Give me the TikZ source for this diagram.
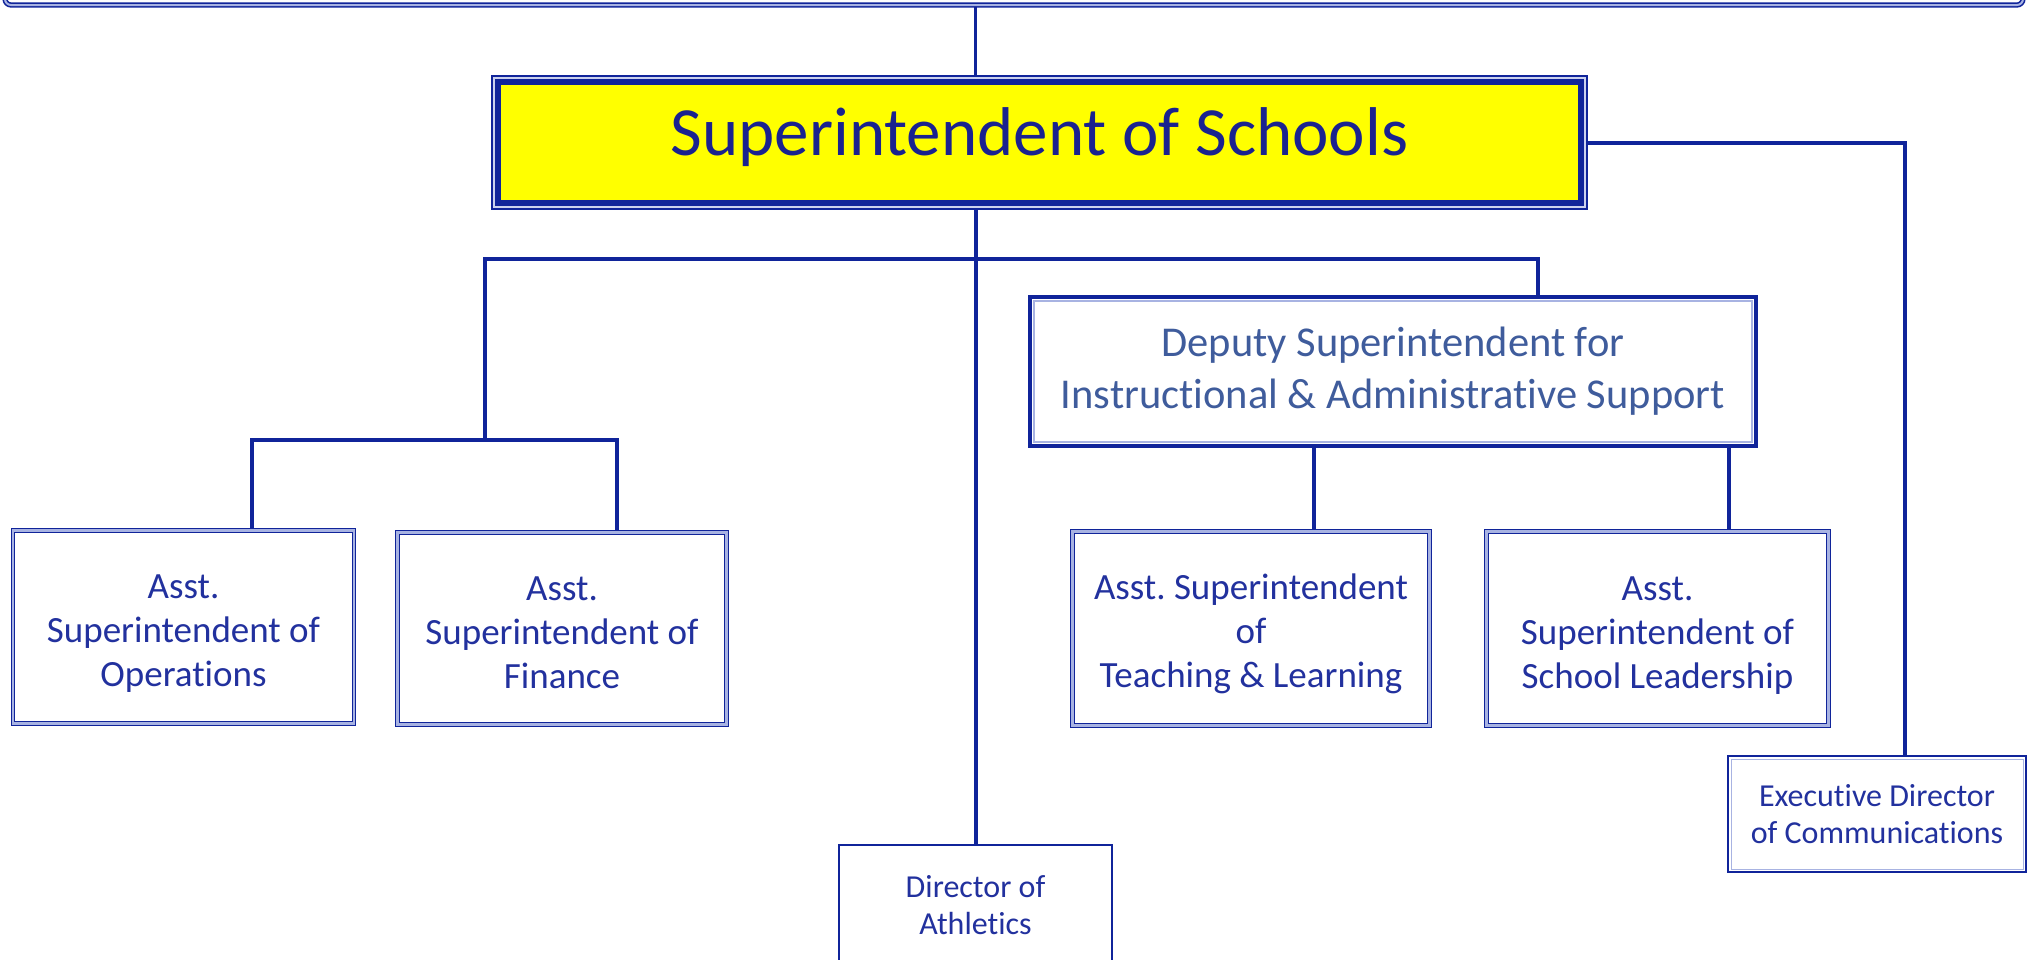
\documentclass[tikz,border=0pt]{standalone}
\usepackage{fontspec}
\setmainfont{Carlito}[Ligatures={NoCommon}]
\usetikzlibrary{calc,backgrounds}
\definecolor{lineblue}{HTML}{10249A}
\definecolor{txtblue}{HTML}{22319E}
\definecolor{suptxt}{HTML}{1A228F}
\definecolor{deptxt}{HTML}{3F5C9C}
\definecolor{band}{HTML}{A8B3E2}
\definecolor{supyellow}{HTML}{FFFF00}
\frenchspacing
\newcommand{\topstrut}{\rule{0pt}{37pt}}
\begin{document}
\begin{tikzpicture}[x=1pt,y=-1pt,
  conn/.style={draw=lineblue,line width=4pt},
  asstbox/.style={draw=lineblue,line width=1.2pt,double=band,double distance=2.5pt,fill=white,
    inner sep=0pt,outer sep=0pt,align=center,text=txtblue,font=\fontsize{37}{44}\selectfont},
  smallbox/.style={draw=lineblue,line width=2pt,fill=white,inner sep=0pt,outer sep=0pt,
    align=center,text=txtblue},
]
\useasboundingbox (0,0) rectangle (2028,959);
\clip (0,0) rectangle (2028,959);

% top (cut-off) box
\node[draw=lineblue,line width=1.6pt,double=band,double distance=2pt,rounded corners=6pt,
  fill=white,minimum width=2018pt,minimum height=50pt,inner sep=0pt,outer sep=0pt] (top) at (1014,-20) {};

% superintendent
\draw[lineblue,line width=2pt,fill=band!60] (492,76) rectangle (1587,209);
\node[draw=lineblue,line width=6pt,fill=supyellow,minimum width=1083pt,minimum height=121pt,
  inner sep=0pt,outer sep=0pt,text=suptxt,font=\fontsize{69}{80}\selectfont,
  text height=48pt,text depth=23pt] (super) at (1039.5,142.5) {Superintendent of Schools};

% deputy
\node[draw=lineblue,line width=4pt,fill=white,minimum width=726pt,minimum height=149pt,
  inner sep=0pt,outer sep=0pt,align=center,text=deptxt,font=\fontsize{42.5}{52}\selectfont]
  (dep) at (1393,371.5) {Deputy Superintendent for\\Instructional \& Administrative Support};
\draw[band,line width=1.5pt] ($(dep.north west)+(4,4)$) rectangle ($(dep.south east)+(-4,-4)$);

% assistant superintendents
\node[asstbox,minimum width=341pt,minimum height=193pt] (ops) at (183.5,627) {\topstrut Asst.\\Superintendent of\\Operations};
\node[asstbox,minimum width=329pt,minimum height=192pt] (fin) at (562,628.5) {\topstrut Asst.\\Superintendent of\\Finance\vphantom{p}};
\node[asstbox,minimum width=357pt,minimum height=194pt] (teach) at (1251,628.5) {\topstrut Asst. Superintendent\\of\\Teaching \& Learning};
\node[asstbox,minimum width=342pt,minimum height=194pt] (lead) at (1657.5,628.5) {\topstrut Asst.\\Superintendent of\\School Leadership};

% directors
\node[smallbox,minimum width=273pt,minimum height=121pt,font=\fontsize{32}{37}\selectfont] (ath) at (975.5,905.5) {Director of\\Athletics};
\node[smallbox,minimum width=298pt,minimum height=116pt,font=\fontsize{32}{37}\selectfont] (exec) at (1877,814) {Executive Director\\of Communications};
\draw[band,line width=1pt] ($(exec.north west)+(3,3)$) rectangle ($(exec.south east)+(-3,-3)$);

% connectors
\coordinate (b1) at (485,259);
\coordinate (b2) at (1538,259);
\coordinate (c1) at (252,440);
\coordinate (c2) at (617,440);
\coordinate (d1) at (1314,446);
\coordinate (d2) at (1729,446);
\coordinate (e1) at (1905,142.5);
\begin{pgfonlayer}{background}
\fill[white] (0,0) rectangle (2028,959);
\draw[draw=lineblue,line width=3pt] (top.south -| ath.north) -- (super.north -| ath.north);
\draw[conn] (super.south -| ath.north) -- (ath.north);
\draw[conn] (b1 |- c1) -- (b1) -- (b2) -- (b2 |- dep.north);
\draw[conn] (c1 |- ops.north) -- (c1) -- (c2) -- (c2 |- fin.north);
\draw[conn] (d1 |- dep.south) -- (d1 |- teach.north);
\draw[conn] (d2 |- dep.south) -- (d2 |- lead.north);
\draw[conn] (super.east) -- (e1) -- (e1 |- exec.north);
\end{pgfonlayer}
\end{tikzpicture}
\end{document}
